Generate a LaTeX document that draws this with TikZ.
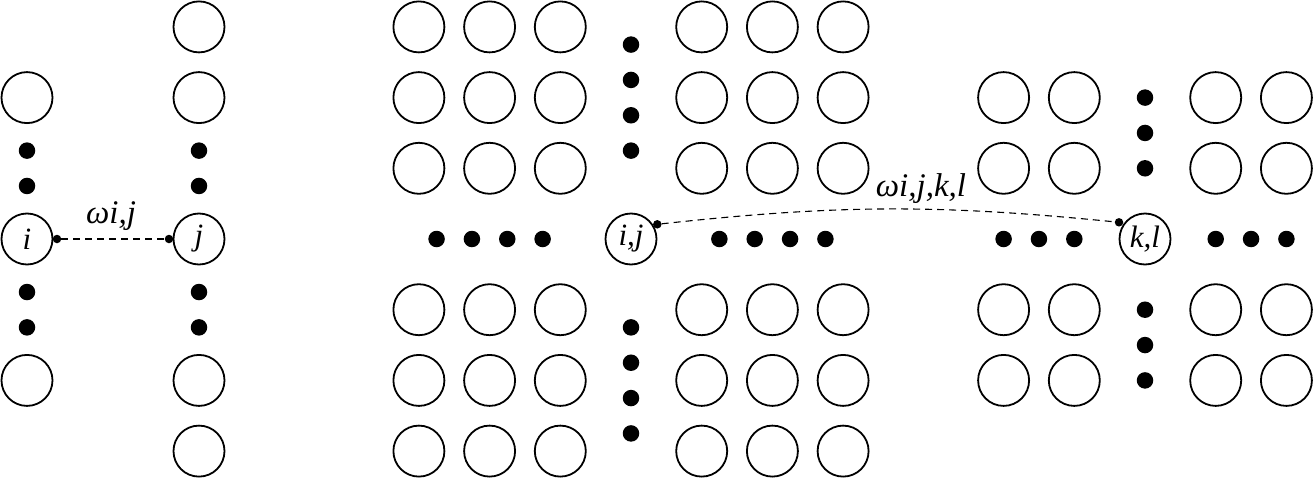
\documentclass[tikz,border=0pt]{standalone}
\usepackage{fontspec}
\setmainfont{Liberation Serif}
\tikzset{
  unit/.style={circle, draw, line width=1.8pt, minimum size=51pt, inner sep=0pt,
    font=\fontsize{31}{31}\selectfont\itshape},
  bigdot/.style={circle, fill, minimum size=16.5pt, inner sep=0pt},
  smalldot/.style={circle, fill, minimum size=8.5pt, inner sep=0pt},
  link/.style={line width=1.1pt, dash pattern=on 7pt off 5pt},
  lbl/.style={font=\fontsize{33}{33}\selectfont\itshape, inner sep=0pt, anchor=base}
}
\begin{document}
\begin{tikzpicture}[x=1pt,y=1pt]
\useasboundingbox (0,0) rectangle (1314,-479);
% ---- left pair of columns ----
\node[unit] (i) at (27,-239) {i};
\node[unit] (iU) at (27,-97.6) {};
\node[unit] (iD) at (27,-380.4) {};
\node[unit] (j) at (199,-239) {j};
\foreach \r/\n in {-3/a,-2/b,2/c,3/d}{
  \node[unit] (j\n) at (199,-239+\r*70.7) {};
}
\foreach \k/\n in {1.5/a,2.5/b}{
  \node[bigdot] (idu\n) at (27,-239+\k*35.35) {};
  \node[bigdot] (idd\n) at (27,-239-\k*35.35) {};
  \node[bigdot] (jdu\n) at (199,-239+\k*35.35) {};
  \node[bigdot] (jdd\n) at (199,-239-\k*35.35) {};
}
\node[smalldot] (si) at (57,-239) {};
\node[smalldot] (sj) at (169,-239) {};
\draw[link] (si) -- (sj);
\node[lbl] (wij) at (111,-223) {ωi,j};
% ---- middle block ----
\node[unit] (ij) at (631,-239) {i,j};
\foreach \c in {-3,-2,-1,1,2,3}{
  \foreach \r in {-3,-2,-1,1,2,3}{
    \node[unit] (m\c\r) at (631+\c*70.7,-239+\r*70.7) {};
  }
}
\foreach \k/\n in {2.5/a,3.5/b,4.5/c,5.5/d}{
  \node[bigdot] (mh\n l) at (631-\k*35.35,-239) {};
  \node[bigdot] (mh\n r) at (631+\k*35.35,-239) {};
  \node[bigdot] (mv\n u) at (631,-239+\k*35.35) {};
  \node[bigdot] (mv\n d) at (631,-239-\k*35.35) {};
}
% ---- right block ----
\node[unit] (kl) at (1145,-239) {k,l};
\foreach \c in {-2,-1,1,2}{
  \foreach \r in {-2,-1,1,2}{
    \node[unit] (r\c\r) at (1145+\c*70.7,-239+\r*70.7) {};
  }
}
\foreach \k/\n in {2/a,3/b,4/c}{
  \node[bigdot] (rh\n l) at (1145-\k*35.35,-239) {};
  \node[bigdot] (rh\n r) at (1145+\k*35.35,-239) {};
  \node[bigdot] (rv\n u) at (1145,-239+\k*35.35) {};
  \node[bigdot] (rv\n d) at (1145,-239-\k*35.35) {};
}
\node[smalldot] (sij) at (657.3,-224.3) {};
\node[smalldot] (skl) at (1119,-222.3) {};
\draw[link] (sij) to[bend left=6] (skl);
\node[lbl] (wijkl) at (921,-196.5) {ωi,j,k,l};
\end{tikzpicture}
\end{document}
